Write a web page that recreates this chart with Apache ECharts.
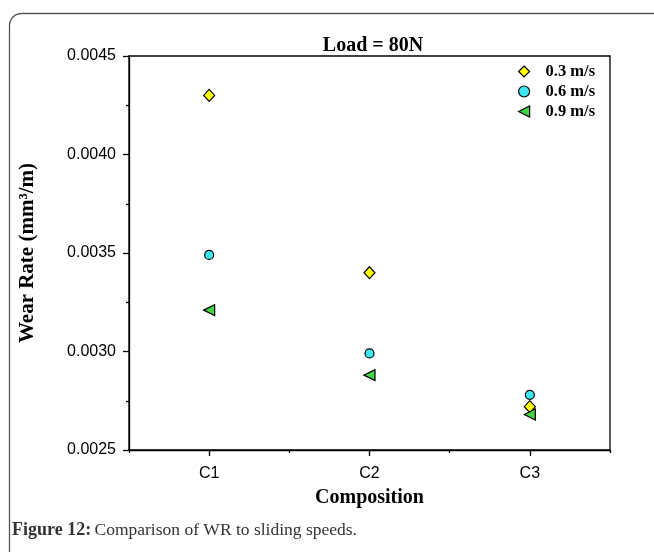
<!DOCTYPE html>
<html>
<head>
<meta charset="utf-8">
<script src="https://cdn.jsdelivr.net/npm/echarts@6/dist/echarts.min.js"></script>
<style>
  html, body { margin: 0; padding: 0; background: #fff; }
  #chart { width: 654px; height: 552px; }
</style>
</head>
<body>
<div id="chart"></div>
<script>
// Wear rate (mm^3/m) of each composition at a load of 80 N, per sliding speed
const categories = ['C1', 'C2', 'C3'];
const speedNames = ['0.3 m/s', '0.6 m/s', '0.9 m/s'];
const speed03 = [0.00430, 0.00340, 0.00272];
const speed06 = [0.00349, 0.00299, 0.00278];
const speed09 = [0.00321, 0.00288, 0.00268];
const yMin = 0.0025;
const yMax = 0.0045;
const yStep = 0.0005;

const serif = '"Liberation Serif", "Times New Roman", serif';
const sans = '"Liberation Sans", Arial, sans-serif';

// left-pointing triangle used for the 0.9 m/s legend entry
const leftTriangle = 'path://M0,5L10,0L10,10Z';

const chart = echarts.init(document.getElementById('chart'), null, { renderer: 'canvas' });

const markerBorder = { borderColor: '#000', borderWidth: 1.2, opacity: 1 };

chart.setOption({
  animation: false,
  backgroundColor: '#fff',
  title: {
    text: 'Load = 80N',
    left: 368,
    top: 31,
    textAlign: 'center',
    textStyle: { fontFamily: serif, fontWeight: 'bold', fontSize: 20, color: '#000' }
  },
  legend: {
    orient: 'vertical',
    left: 513,
    top: 58,
    itemWidth: 11,
    itemHeight: 11,
    itemGap: 3,
    itemTextGap: 6,
    data: [
      { name: speedNames[0], icon: 'diamond' },
      { name: speedNames[1], icon: 'circle' },
      { name: speedNames[2], icon: leftTriangle }
    ],
    itemStyle: { borderColor: '#000', borderWidth: 1.2 },
    textStyle: {
      fontFamily: serif, fontWeight: 'bold', fontSize: 16.5, color: '#000',
      padding: [0, 0, 0, 11]
    }
  },
  grid: {
    left: 129, right: 44, top: 56, bottom: 102,
    show: true, borderColor: '#000', borderWidth: 1.3, backgroundColor: 'transparent'
  },
  xAxis: [
    {
      type: 'category',
      data: categories,
      boundaryGap: true,
      position: 'bottom',
      axisLine: { onZero: false, lineStyle: { color: '#000', width: 1.3 } },
      axisTick: { show: true, alignWithLabel: true, length: 6, lineStyle: { color: '#000', width: 1.3 } },
      axisLabel: { fontFamily: sans, fontSize: 16, color: '#000', margin: 16 },
      splitLine: { show: false },
      name: 'Composition',
      nameLocation: 'middle',
      nameGap: 38,
      nameTextStyle: { fontFamily: serif, fontWeight: 'bold', fontSize: 20, color: '#000' }
    },
    {
      // boundary ticks between categories
      type: 'category',
      data: categories,
      boundaryGap: true,
      position: 'bottom',
      offset: 0,
      axisLine: { show: false, onZero: false },
      axisTick: { show: true, alignWithLabel: false, length: 3, lineStyle: { color: '#000', width: 1.3 } },
      axisLabel: { show: false },
      splitLine: { show: false }
    }
  ],
  yAxis: {
    type: 'value',
    min: yMin,
    max: yMax,
    interval: yStep,
    axisLine: { show: true, lineStyle: { color: '#000', width: 1.3 } },
    axisTick: { show: true, length: 6, lineStyle: { color: '#000', width: 1.3 } },
    minorTick: { show: true, splitNumber: 2, length: 3, lineStyle: { color: '#000', width: 1.3 } },
    splitLine: { show: false },
    minorSplitLine: { show: false },
    axisLabel: {
      fontFamily: sans, fontSize: 16, color: '#000', margin: 13,
      formatter: v => v.toFixed(4)
    },
    name: 'Wear Rate (mm³/m)',
    nameLocation: 'middle',
    nameRotate: 90,
    nameGap: 91,
    nameTextStyle: { fontFamily: serif, fontWeight: 'bold', fontSize: 21, color: '#000' }
  },
  series: [
    {
      name: speedNames[0], type: 'scatter', xAxisIndex: 0,
      symbol: 'diamond', symbolSize: [11, 12],
      itemStyle: Object.assign({ color: '#ffff00' }, markerBorder),
      data: speed03
    },
    {
      name: speedNames[1], type: 'scatter', xAxisIndex: 0,
      symbol: 'circle', symbolSize: 9,
      itemStyle: Object.assign({ color: '#3ee6f0' }, markerBorder),
      data: speed06
    },
    {
      name: speedNames[2], type: 'scatter', xAxisIndex: 0,
      symbol: 'triangle', symbolSize: 11, symbolRotate: 90,
      itemStyle: Object.assign({ color: '#44d444' }, markerBorder),
      data: speed09
    }
  ],
  graphic: [
    {
      // figure panel frame
      type: 'rect',
      silent: true,
      shape: { x: 9.5, y: 13.5, width: 720, height: 620, r: 12 },
      style: { fill: 'none', stroke: '#555', lineWidth: 1.3 }
    },
    {
      type: 'text',
      silent: true,
      left: 12,
      top: 521,
      style: {
        text: '{b|Figure 12:} {r|Comparison of WR to sliding speeds.}',
        rich: {
          b: { fontFamily: serif, fontWeight: 'bold', fontSize: 18, fill: '#333' },
          r: { fontFamily: serif, fontSize: 17.5, fill: '#333' }
        }
      }
    }
  ]
});
</script>
</body>
</html>
